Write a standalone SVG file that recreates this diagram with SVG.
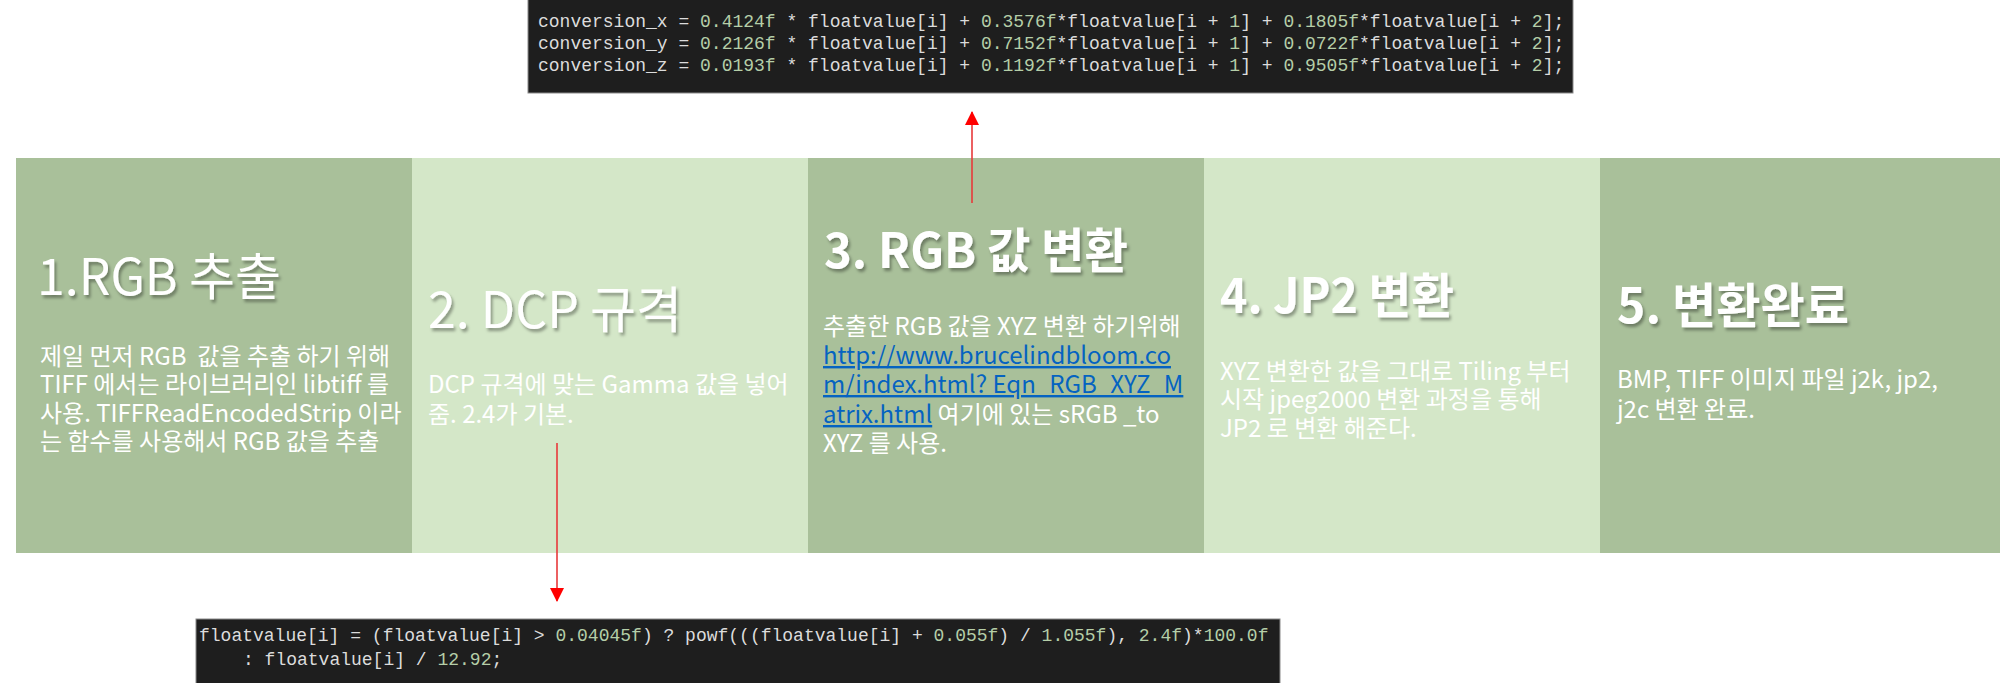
<svg xmlns="http://www.w3.org/2000/svg" width="2000" height="683" viewBox="0 0 2000 683">
<defs>
<style>
.dark{fill:#A9C09A}
.light{fill:#D4E7C8}
.title{font-family:"Noto Sans CJK KR","Noto Sans",sans-serif;fill:#FFFFFF;filter:url(#sh)}
.t-reg{font-weight:400;font-size:50px}
.t-bold{font-weight:700;font-size:48px}
.body{font-family:"Noto Sans CJK KR","Noto Sans",sans-serif;font-size:24px;fill:#FFFFFF}
.link{fill:#0563C1;text-decoration:underline}
.codebox{fill:#1E1E1E;stroke:#8A8A8A;stroke-width:1}
.code{font-family:"Liberation Mono","DejaVu Sans Mono",monospace;font-size:18px;fill:#DCDCDC}
.num{fill:#B5CEA8}
.conn{stroke:#E8393A;stroke-width:1.6;fill:none}
</style>
<filter id="sh" x="-10%" y="-20%" width="130%" height="150%">
<feDropShadow dx="2" dy="3" stdDeviation="1.5" flood-color="#000000" flood-opacity="0.35"/>
</filter>
<marker id="ah" markerUnits="userSpaceOnUse" markerWidth="14" markerHeight="14" viewBox="0 0 14 14" refX="13" refY="7" orient="auto">
<path d="M0,0 L14,7 L0,14 z" fill="#FF0000"/>
</marker>
</defs>
<rect x="0" y="0" width="2000" height="683" fill="#FFFFFF"/>

<g id="code-xyz">
<rect class="codebox" x="528" y="-1" width="1045" height="94"/>
<text class="code" x="538" y="27" xml:space="preserve">conversion_x = <tspan class="num">0.4124f</tspan> * floatvalue[i] + <tspan class="num">0.3576f</tspan>*floatvalue[i + <tspan class="num">1</tspan>] + <tspan class="num">0.1805f</tspan>*floatvalue[i + <tspan class="num">2</tspan>];</text>
<text class="code" x="538" y="49" xml:space="preserve">conversion_y = <tspan class="num">0.2126f</tspan> * floatvalue[i] + <tspan class="num">0.7152f</tspan>*floatvalue[i + <tspan class="num">1</tspan>] + <tspan class="num">0.0722f</tspan>*floatvalue[i + <tspan class="num">2</tspan>];</text>
<text class="code" x="538" y="71" xml:space="preserve">conversion_z = <tspan class="num">0.0193f</tspan> * floatvalue[i] + <tspan class="num">0.1192f</tspan>*floatvalue[i + <tspan class="num">1</tspan>] + <tspan class="num">0.9505f</tspan>*floatvalue[i + <tspan class="num">2</tspan>];</text>
</g>

<g id="step1">
<rect class="dark" x="16" y="158" width="396" height="395"/>
<text class="title t-reg" x="37" y="295">1.RGB 추출</text>
<text class="body" x="40" y="365" xml:space="preserve">제일 먼저 RGB  값을 추출 하기 위해</text>
<text class="body" x="40" y="393">TIFF 에서는 라이브러리인 libtiff 를</text>
<text class="body" x="40" y="422">사용. TIFFReadEncodedStrip 이라</text>
<text class="body" x="40" y="450">는 함수를 사용해서 RGB 값을 추출</text>
</g>

<g id="step2">
<rect class="light" x="412" y="158" width="396" height="395"/>
<text class="title t-reg" x="428" y="328">2. DCP 규격</text>
<text class="body" x="428" y="393">DCP 규격에 맞는 Gamma 값을 넣어</text>
<text class="body" x="428" y="423">줌. 2.4가 기본.</text>
</g>

<g id="step3">
<rect class="dark" x="808" y="158" width="396" height="395"/>
<text class="title t-bold" x="824" y="268" textLength="304" lengthAdjust="spacingAndGlyphs">3. RGB 값 변환</text>
<text class="body" x="823" y="335">추출한 RGB 값을 XYZ 변환 하기위해</text>
<text class="body link" x="823" y="364">http://www.brucelindbloom.co</text>
<text class="body link" x="823" y="393">m/index.html? Eqn_RGB_XYZ_M</text>
<text class="body" x="823" y="423"><tspan class="link">atrix.html</tspan> 여기에 있는 sRGB _to</text>
<text class="body" x="823" y="452">XYZ 를 사용.</text>
</g>

<g id="step4">
<rect class="light" x="1204" y="158" width="396" height="395"/>
<text class="title t-bold" x="1220" y="313" textLength="234" lengthAdjust="spacingAndGlyphs">4. JP2 변환</text>
<text class="body" x="1220" y="380">XYZ 변환한 값을 그대로 Tiling 부터</text>
<text class="body" x="1220" y="408">시작 jpeg2000 변환 과정을 통해</text>
<text class="body" x="1220" y="437">JP2 로 변환 해준다.</text>
</g>

<g id="step5">
<rect class="dark" x="1600" y="158" width="400" height="395"/>
<text class="title t-bold" x="1617" y="323" textLength="232" lengthAdjust="spacingAndGlyphs">5. 변환완료</text>
<text class="body" x="1617" y="388">BMP, TIFF 이미지 파일 j2k, jp2,</text>
<text class="body" x="1617" y="418">j2c 변환 완료.</text>
</g>

<g id="code-gamma">
<rect class="codebox" x="196" y="619" width="1084" height="65"/>
<text class="code" x="199" y="641" xml:space="preserve">floatvalue[i] = (floatvalue[i] &gt; <tspan class="num">0.04045f</tspan>) ? powf(((floatvalue[i] + <tspan class="num">0.055f</tspan>) / <tspan class="num">1.055f</tspan>), <tspan class="num">2.4f</tspan>)*<tspan class="num">100.0f</tspan></text>
<text class="code" x="243" y="665" xml:space="preserve">: floatvalue[i] / <tspan class="num">12.92</tspan>;</text>
</g>

<g id="connectors">
<line class="conn" x1="972" y1="203" x2="972" y2="112" marker-end="url(#ah)"/>
<line class="conn" x1="557" y1="443" x2="557" y2="601" marker-end="url(#ah)"/>
</g>
</svg>
